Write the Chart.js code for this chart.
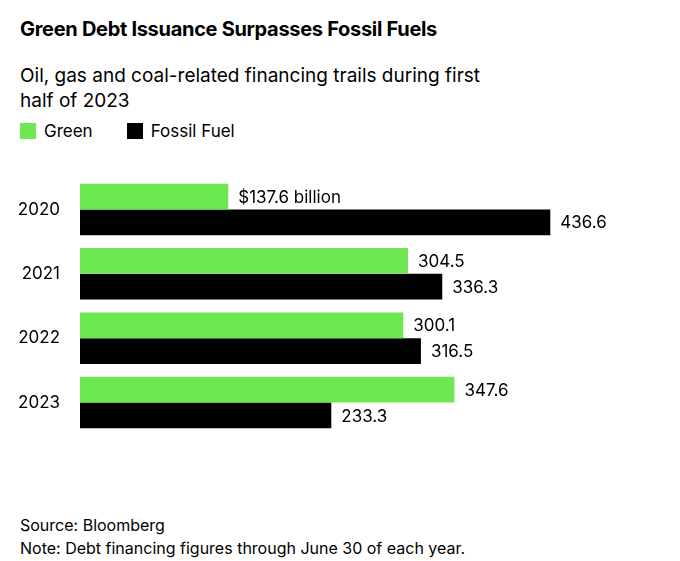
<!DOCTYPE html>
<html><head><meta charset="utf-8">
<script src="https://cdn.jsdelivr.net/npm/chart.js"></script>
<style>
body{margin:0;width:680px;height:561px;background:#fff;font-family:Inter,"Noto Sans",sans-serif;color:#000;position:relative;overflow:hidden}
.t{position:absolute;left:20px;white-space:nowrap}
#title{top:17px;font-size:20px;font-weight:700;letter-spacing:-0.3px}
#sub{top:63px;font-size:19px;line-height:25px;white-space:normal;width:480px}
#leg{top:121px;font-size:17px;display:flex;align-items:center}
.sw{display:inline-block;width:16px;height:16px;margin-right:8px}
#src{top:514px;font-size:16px;line-height:23px}
#c{position:absolute;left:0;top:155px}
</style></head><body>
<div class="t" id="title">Green Debt Issuance Surpasses Fossil Fuels</div>
<div class="t" id="sub">Oil, gas and coal-related financing trails during first half of 2023</div>
<div class="t" id="leg"><span class="sw" style="background:#6de852"></span>Green<span style="width:34px"></span><span class="sw" style="background:#000"></span>Fossil Fuel</div>
<div class="t" id="src">Source: Bloomberg<br>Note: Debt financing figures through June 30 of each year.</div>
<canvas id="c" width="680" height="302" style="width:680px;height:302px"></canvas>
<script>
const categories=["2020","2021","2022","2023"];
const green=[137.6,304.5,300.1,347.6];
const fossil=[436.6,336.3,316.5,233.3];
const greenLabels=["$137.6 billion","304.5","300.1","347.6"];
const fossilLabels=["436.6","336.3","316.5","233.3"];
const labelPlugin={id:'lbl',afterDatasetsDraw(ch){const ctx=ch.ctx;ctx.save();ctx.font='17px Inter, "Noto Sans", sans-serif';ctx.fillStyle='#000';ctx.textBaseline='middle';
ch.data.datasets.forEach((ds,i)=>{const labs=i===0?greenLabels:fossilLabels;ch.getDatasetMeta(i).data.forEach((b,j)=>{ctx.fillText(labs[j],b.x+10,b.y+1);});});ctx.restore();}};
new Chart(document.getElementById('c'),{type:'bar',
data:{labels:categories,datasets:[
{label:'Green',data:green,backgroundColor:'#6de852',categoryPercentage:0.8,barPercentage:1},
{label:'Fossil Fuel',data:fossil,backgroundColor:'#000',categoryPercentage:0.8,barPercentage:1}]},
options:{indexAxis:'y',responsive:false,animation:false,devicePixelRatio:1,layout:{padding:0},
plugins:{legend:{display:false},tooltip:{enabled:false}},
scales:{x:{display:false,min:0,max:557},
y:{grid:{display:false},border:{display:false},ticks:{color:'#000',font:{size:17,family:'Inter, "Noto Sans", sans-serif'},padding:12},afterFit(s){s.width=80;}}}},
plugins:[labelPlugin]});
</script></body></html>
